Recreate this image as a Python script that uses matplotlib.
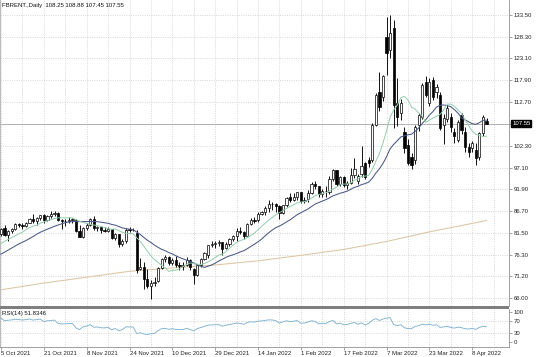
import numpy as np
import pandas as pd
import matplotlib
matplotlib.use("Agg")
import matplotlib.pyplot as plt
from matplotlib.patches import Rectangle
import matplotlib.transforms as mtransforms

plt.rcParams['font.family'] = ['Liberation Sans', 'DejaVu Sans']
FS = 4.3

# Daily bars, 5 Oct 2021 .. 14 Apr 2022 (index 0 = 5 Oct 2021)
opens = [81.3, 82.6, 81.1, 81.9, 82.4, 83.6, 83.4, 83.2, 84.0, 84.9,
         84.3, 85.1, 85.8, 84.6, 85.5, 86.0, 86.4, 84.6, 84.3, 84.4,
         84.7, 84.7, 82.0, 80.6, 82.7, 83.4, 84.8, 82.6, 82.9, 82.2,
         82.1, 82.4, 80.3, 81.2, 78.9, 79.7, 82.3, 82.2, 81.6, 72.9,
         73.4, 70.6, 68.9, 69.7, 70.1, 73.1, 75.4, 75.8, 74.4, 75.2,
         73.9, 73.7, 73.9, 75.0, 72.9, 71.5, 74.0, 75.3, 76.2, 78.6,
         78.9, 79.2, 79.3, 78.0, 79.0, 80.0, 80.8, 82.0, 81.8, 80.9,
         83.7, 84.7, 84.5, 86.1, 86.5, 87.5, 88.4, 88.4, 87.9, 86.3,
         88.2, 90.0, 89.3, 90.0, 91.2, 89.2, 89.5, 91.1, 93.3, 92.7,
         90.8, 91.6, 91.4, 94.4, 96.5, 93.3, 94.8, 93.0, 93.5, 95.4,
         94.0, 95.5, 98.1, 98.9, 98.9, 107.2, 115.2, 114.0, 128.3, 125.1,
         130.3, 112.5, 110.0, 105.6, 102.5, 99.7, 98.9, 107.2, 109.2, 117.5,
         112.4, 118.0, 115.2, 114.4, 107.2, 108.6, 109.2, 105.6, 103.7, 109.6,
         105.6, 102.1, 101.7, 101.3, 99.7, 105.3, 108.25]
highs = [82.8, 83.5, 82.2, 82.6, 84.0, 84.0, 83.9, 84.2, 85.1, 86.0,
         85.3, 85.9, 86.1, 85.8, 86.7, 86.7, 86.5, 84.9, 84.9, 85.4,
         85.0, 84.9, 83.4, 82.9, 83.8, 85.0, 85.5, 83.3, 83.2, 82.9,
         83.0, 82.5, 81.6, 81.3, 80.2, 82.6, 82.9, 82.6, 82.2, 75.5,
         74.6, 72.9, 70.4, 71.1, 73.5, 75.6, 76.2, 76.1, 75.6, 76.0,
         74.5, 74.5, 75.8, 75.4, 73.3, 74.1, 75.5, 76.9, 78.7, 79.6,
         79.5, 79.8, 79.4, 79.4, 80.3, 81.0, 82.7, 83.0, 82.0, 84.0,
         85.0, 85.3, 86.6, 86.7, 88.0, 89.4, 89.0, 88.6, 88.1, 88.3,
         90.0, 91.0, 91.0, 91.4, 91.3, 90.0, 91.7, 93.7, 94.0, 92.8,
         91.9, 92.6, 95.0, 96.8, 96.6, 95.2, 95.0, 94.0, 97.0, 99.4,
         95.6, 102.3, 98.5, 99.6, 107.6, 114.8, 119.9, 119.2, 133.0, 133.4,
         132.3, 118.4, 113.5, 106.8, 104.0, 100.5, 107.2, 110.2, 117.2, 119.0,
         118.4, 118.6, 117.0, 115.0, 109.8, 111.9, 110.0, 106.6, 108.4, 110.2,
         106.8, 103.0, 103.4, 102.9, 105.6, 109.6, 108.88]
lows = [80.9, 80.8, 79.6, 81.5, 82.3, 82.9, 82.5, 82.9, 83.8, 83.9,
        83.5, 84.5, 83.8, 84.3, 85.1, 85.6, 84.3, 82.4, 83.3, 83.8,
        83.9, 81.7, 80.5, 80.3, 82.3, 83.1, 82.3, 82.0, 81.5, 81.7,
        81.8, 80.0, 79.8, 78.3, 78.5, 79.2, 81.7, 81.9, 72.1, 72.6,
        68.2, 68.4, 65.7, 68.9, 69.9, 72.9, 74.6, 74.0, 73.9, 73.5,
        72.8, 72.7, 73.7, 72.8, 69.3, 71.2, 73.4, 75.0, 75.6, 78.2,
        78.0, 78.4, 76.4, 77.7, 78.5, 79.5, 79.6, 81.4, 80.2, 80.8,
        83.5, 83.8, 84.1, 85.7, 85.9, 86.6, 87.1, 86.6, 84.8, 86.0,
        87.6, 88.9, 89.1, 89.4, 88.6, 88.7, 88.8, 90.8, 92.0, 90.1,
        90.2, 90.0, 90.8, 94.0, 92.7, 92.7, 92.4, 91.9, 93.3, 94.6,
        93.2, 94.9, 94.4, 97.2, 98.4, 106.9, 110.6, 113.0, 119.2, 123.1,
        106.5, 107.0, 108.5, 100.5, 97.6, 96.8, 98.0, 105.8, 108.6, 113.9,
        111.8, 113.3, 113.6, 106.0, 102.8, 107.9, 105.5, 103.0, 103.2, 105.2,
        100.7, 99.6, 100.8, 97.7, 98.9, 104.5, 107.45]
closes = [82.56, 81.08, 81.95, 82.39, 83.65, 83.42, 83.18, 84.00, 84.86, 84.33,
          85.08, 85.82, 84.61, 85.53, 85.99, 86.40, 84.58, 84.32, 84.38, 84.71,
          84.72, 81.99, 80.54, 82.74, 83.43, 84.78, 82.64, 82.87, 82.17, 82.05,
          82.43, 80.28, 81.24, 78.89, 79.70, 82.31, 82.25, 82.22, 72.72, 73.44,
          70.57, 68.87, 69.67, 69.88, 73.08, 75.44, 75.82, 74.42, 75.15, 73.90,
          73.70, 73.88, 75.02, 73.52, 71.52, 73.98, 75.29, 76.85, 78.60, 78.94,
          79.23, 79.32, 77.78, 78.98, 80.00, 80.80, 81.99, 81.75, 80.87, 83.72,
          84.67, 84.47, 86.06, 86.48, 87.51, 88.44, 88.38, 87.89, 86.27, 88.20,
          89.96, 89.34, 90.03, 91.21, 89.16, 89.47, 91.11, 93.27, 92.69, 90.78,
          91.55, 91.41, 94.44, 96.48, 93.28, 94.81, 92.97, 93.54, 95.39, 96.84,
          95.00, 97.50, 94.90, 98.20, 107.20, 114.40, 111.60, 118.80, 124.30, 129.10,
          112.00, 109.20, 112.40, 101.70, 98.10, 97.70, 106.80, 109.60, 116.80, 114.40,
          117.50, 114.00, 116.40, 106.50, 108.80, 111.20, 106.80, 104.50, 108.00, 106.00,
          102.10, 100.90, 102.90, 99.30, 105.30, 109.20, 107.55]

# closes before the first visible bar (8 Sep .. 4 Oct 2021), seed for MAs / RSI
prior_closes = [72.60, 71.45, 72.92, 73.51, 73.60, 75.46, 75.67, 75.34, 74.92, 74.36,
                76.19, 77.25, 78.09, 79.53, 79.09, 78.64, 78.52, 79.28, 81.26]

# long moving average at the date grid
ma_long_idx = [0, 12, 24, 36, 48, 60, 72, 84, 96, 108, 120, 132, 136]
ma_long = [68.0, 69.6, 71.0, 72.4, 73.2, 73.9, 74.9, 76.2, 77.6, 79.5, 81.8, 83.8, 84.5]

date_labels = ["5 Oct 2021", "21 Oct 2021", "8 Nov 2021", "24 Nov 2021", "10 Dec 2021",
               "29 Dec 2021", "14 Jan 2022", "1 Feb 2022", "17 Feb 2022", "7 Mar 2022",
               "23 Mar 2022", "8 Apr 2022"]
label_idx = [0, 12, 24, 36, 48, 60, 72, 84, 96, 108, 120, 132]
price_ticks = [133.5, 128.3, 123.1, 117.9, 112.7, 107.5, 102.3, 97.1, 91.9,
               86.7, 81.5, 76.3, 71.2, 66.0]
last_price = 107.55
header = "FBRENT.,Daily  108.25 108.88 107.45 107.55"
rsi_title = "RSI(14) 51.8346"

# indicators
all_c = pd.Series(prior_closes + closes)
n0 = len(prior_closes)
ma_fast = all_c.rolling(10).mean().values[n0:]
ma_slow = all_c.rolling(20).mean().values[n0:]

delta = np.diff(all_c.values)
gain = np.clip(delta, 0, None)
loss = np.clip(-delta, 0, None)
rsi_full = np.full(len(all_c), np.nan)
ag = gain[:14].mean()
al = loss[:14].mean()
rsi_full[14] = 100 - 100 / (1 + ag / al)
for k in range(14, len(delta)):
    ag = (ag * 13 + gain[k]) / 14
    al = (al * 13 + loss[k]) / 14
    rsi_full[k + 1] = 100 - 100 / (1 + ag / al)
rsi = rsi_full[n0:]

W, H = 536, 357
fig = plt.figure(figsize=(W / 100, H / 100), dpi=100)
fig.patch.set_facecolor('white')
right = 509 / W
ax = fig.add_axes([0, 1 - 306 / H, right, 306 / H])
axr = fig.add_axes([0, 1 - 346.5 / H, right, 37.5 / H], sharex=ax)

x = np.arange(len(closes))
o = np.array(opens); h = np.array(highs); l = np.array(lows); c = np.array(closes)
up = c >= o
grid_kw = dict(color='#cacaca', linestyle=(0, (1.2, 1.8)), linewidth=0.55)

# grid
for p in price_ticks:
    ax.axhline(p, zorder=0, **grid_kw)
for g in range(0, 143, 6):
    ax.axvline(g, zorder=0, **grid_kw)
    axr.axvline(g, zorder=0, **grid_kw)
for lv in (30, 70):
    axr.axhline(lv, zorder=0, **grid_kw)

ax.axhline(last_price, color='#a8a8a8', lw=0.6, zorder=1)

# moving averages
ax.plot(ma_long_idx, ma_long, color='#dcc6a2', lw=0.75, zorder=2)
ax.plot(x, ma_slow, color='#4a5888', lw=0.75, zorder=5)
ax.plot(x, ma_fast, color='#93cdaa', lw=0.7, zorder=5)

# candles
ax.vlines(x, l, h, color='black', lw=0.65, zorder=3)
bot = np.minimum(o, c)
hgt = np.maximum(np.abs(c - o), 0.15)
ax.bar(x[up], hgt[up], bottom=bot[up], width=0.62, color='white',
       edgecolor='black', linewidth=0.5, zorder=4)
ax.bar(x[~up], hgt[~up], bottom=bot[~up], width=0.62, color='black',
       edgecolor='black', linewidth=0.5, zorder=4)

ax.set_xlim(-0.28, 142.3)
ax.set_ylim(64.14, 137.0)
ax.yaxis.tick_right()
ax.set_yticks(price_ticks)
ax.set_yticklabels(['' if p == 107.5 else '%.2f' % p for p in price_ticks])
ax.tick_params(axis='y', length=2, width=0.5, color='#808080', labelsize=FS,
               pad=1.5, labelcolor='#222222')
ax.tick_params(axis='x', length=0, labelbottom=False)
for s in ('top', 'bottom'):
    ax.spines[s].set_visible(False)
ax.spines['left'].set_color('#b0b0b0')
ax.spines['right'].set_color('#909090')
ax.spines['left'].set_linewidth(0.6)
ax.spines['right'].set_linewidth(0.6)

trans = mtransforms.blended_transform_factory(ax.transAxes, ax.transData)
ax.text(1.006, last_price, '%.2f' % last_price, transform=trans, color='white',
        fontsize=FS, va='center', ha='left',
        bbox=dict(boxstyle='square,pad=0.15', fc='black', ec='black'))
ax.text(0.004, 1 - 5.5 / 306, header, transform=ax.transAxes, fontsize=FS,
        va='center', ha='left', color='#111111')

# RSI panel
axr.plot(x, rsi, color='#7fb2d2', lw=0.65, zorder=3)
axr.set_ylim(-14, 111)
axr.yaxis.tick_right()
axr.set_yticks([0, 30, 70, 100])
axr.set_yticklabels(['0', '30', '70', '100'])
axr.tick_params(axis='y', length=2, width=0.5, color='#808080', labelsize=FS,
                pad=1.5, labelcolor='#222222')
axr.set_xticks(label_idx)
axr.set_xticklabels(date_labels)
axr.tick_params(axis='x', length=2, width=0.5, color='#808080', labelsize=FS,
                pad=1.2, labelcolor='#222222')
for t in axr.get_xticklabels():
    t.set_ha('left')
axr.spines['top'].set_visible(False)
axr.spines['left'].set_color('#b0b0b0')
axr.spines['right'].set_color('#909090')
axr.spines['bottom'].set_color('#909090')
for s in ('left', 'right', 'bottom'):
    axr.spines[s].set_linewidth(0.6)
axr.text(0.004, (346.5 - 313) / 37.5, rsi_title, transform=axr.transAxes,
         fontsize=FS, va='center', ha='left', color='#111111')

# window separator
fig.patches.append(Rectangle((0, 1 - 308.5 / H), right, 2.2 / H,
                             transform=fig.transFigure, color='#7f7f7f', lw=0, zorder=10))

fig.savefig('out.png', dpi=100)
